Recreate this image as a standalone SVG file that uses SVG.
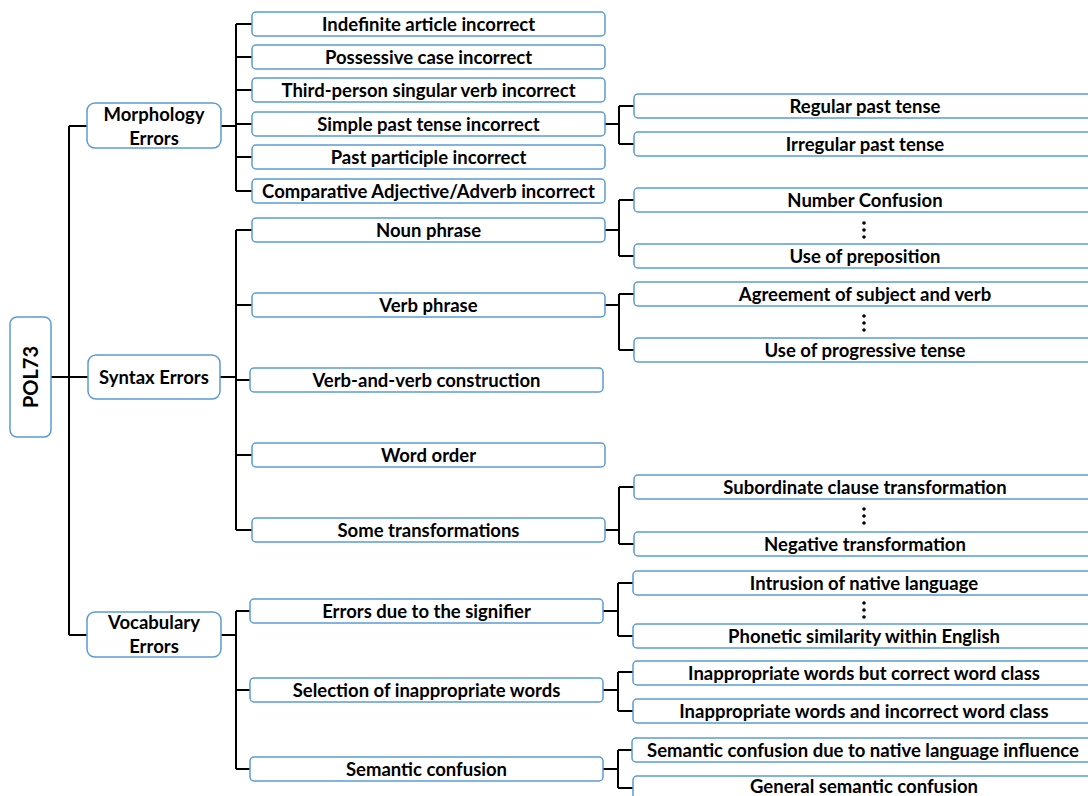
<svg xmlns="http://www.w3.org/2000/svg" width="1088" height="796" viewBox="0 0 1088 796">
<style>
.box{fill:#fff;stroke:#5B9BD5;stroke-width:1.5}
.t{font-family:Lato,"Liberation Sans",sans-serif;font-weight:700;font-size:18.5px;fill:#000;text-anchor:middle}
.c{fill:none;stroke:#000;stroke-width:2}
.dot{fill:#000}
</style>
<rect width="1088" height="796" fill="#fff"/>
<g id="connectors" class="c">
<path d="M51 377H69M69 126V635M69 126H87M69 377H88M69 635H87"/>
<path d="M221 126H236M236 24V191M236 24H252M236 57H252M236 90H252M236 124H252M236 157H252M236 191H252"/>
<path d="M604 124H619M619 106V144M619 106H634M619 144H634"/>
<path d="M220 377H236M236 230V530M236 230H252M236 305H252M236 380H250M236 455H252M236 530H252"/>
<path d="M604 230H619M619 200V256M619 200H634M619 256H634"/>
<path d="M604 305H619M619 294V350M619 294H634M619 350H634"/>
<path d="M604 530H619M619 487V544M619 487H634M619 544H634"/>
<path d="M221 635H236M236 611V769M236 611H250M236 690H250M236 769H250"/>
<path d="M603 611H618M618 583V636M618 583H633M618 636H633"/>
<path d="M603 690H618M618 672V711M618 672H633M618 711H633"/>
<path d="M603 769H618M618 750V788M618 750H632M618 788H633"/>
</g>
<g id="root"><rect class="box" x="10" y="317" width="41" height="120" rx="7"/><text class="t" style="font-size:20px" transform="translate(38 377) rotate(-90)">POL73</text></g>
<g id="morph"><rect class="box" x="87" y="103" width="134" height="45" rx="8"/><text class="t" x="154" y="121">Morphology</text><text class="t" x="154" y="145">Errors</text></g>
<g id="m1"><rect class="box" x="252" y="12" width="353" height="24" rx="4"/><text class="t" x="428.5" y="31">Indefinite article incorrect</text></g>
<g id="m2"><rect class="box" x="252" y="45" width="353" height="24" rx="4"/><text class="t" x="428.5" y="64">Possessive case incorrect</text></g>
<g id="m3"><rect class="box" x="252" y="78" width="353" height="24" rx="4"/><text class="t" x="428.5" y="97">Third-person singular verb incorrect</text></g>
<g id="m4"><rect class="box" x="252" y="112" width="353" height="24" rx="4"/><text class="t" x="428.5" y="131">Simple past tense incorrect</text></g>
<g id="m5"><rect class="box" x="252" y="145" width="353" height="24" rx="4"/><text class="t" x="428.5" y="164">Past participle incorrect</text></g>
<g id="m6"><rect class="box" x="252" y="179" width="353" height="24" rx="4"/><text class="t" x="428.5" y="198">Comparative Adjective/Adverb incorrect</text></g>
<g id="m4a"><rect class="box" x="634" y="94" width="462" height="24" rx="4"/><text class="t" x="865" y="113">Regular past tense</text></g>
<g id="m4b"><rect class="box" x="634" y="132" width="462" height="24" rx="4"/><text class="t" x="865" y="151">Irregular past tense</text></g>
<g id="syn"><rect class="box" x="88" y="355" width="132" height="44" rx="8"/><text class="t" x="154" y="384">Syntax Errors</text></g>
<g id="s1"><rect class="box" x="252" y="218" width="353" height="24" rx="4"/><text class="t" x="428.5" y="237">Noun phrase</text></g>
<g id="s2"><rect class="box" x="252" y="293" width="353" height="24" rx="4"/><text class="t" x="428.5" y="312">Verb phrase</text></g>
<g id="s3"><rect class="box" x="250" y="368" width="353" height="24" rx="4"/><text class="t" x="426.5" y="387">Verb-and-verb construction</text></g>
<g id="s4"><rect class="box" x="252" y="443" width="353" height="24" rx="4"/><text class="t" x="428.5" y="462">Word order</text></g>
<g id="s5"><rect class="box" x="252" y="518" width="353" height="24" rx="4"/><text class="t" x="428.5" y="537">Some transformations</text></g>
<g id="s1a"><rect class="box" x="634" y="188" width="462" height="24" rx="4"/><text class="t" x="865" y="207">Number Confusion</text></g>
<g id="s1d" class="dot"><circle cx="864" cy="223" r="1.8"/><circle cx="864" cy="230" r="1.8"/><circle cx="864" cy="237" r="1.8"/></g>
<g id="s1b"><rect class="box" x="634" y="244" width="462" height="24" rx="4"/><text class="t" x="865" y="263">Use of preposition</text></g>
<g id="s2a"><rect class="box" x="634" y="282" width="462" height="24" rx="4"/><text class="t" x="865" y="301">Agreement of subject and verb</text></g>
<g id="s2d" class="dot"><circle cx="864" cy="316" r="1.8"/><circle cx="864" cy="323" r="1.8"/><circle cx="864" cy="330" r="1.8"/></g>
<g id="s2b"><rect class="box" x="634" y="338" width="462" height="24" rx="4"/><text class="t" x="865" y="357">Use of progressive tense</text></g>
<g id="s5a"><rect class="box" x="634" y="475" width="462" height="24" rx="4"/><text class="t" x="865" y="494">Subordinate clause transformation</text></g>
<g id="s5d" class="dot"><circle cx="864" cy="509" r="1.8"/><circle cx="864" cy="516" r="1.8"/><circle cx="864" cy="523" r="1.8"/></g>
<g id="s5b"><rect class="box" x="634" y="532" width="462" height="24" rx="4"/><text class="t" x="865" y="551">Negative transformation</text></g>
<g id="voc"><rect class="box" x="87" y="612" width="134" height="45" rx="8"/><text class="t" x="154" y="629">Vocabulary</text><text class="t" x="154" y="653">Errors</text></g>
<g id="v1"><rect class="box" x="250" y="599" width="353" height="24" rx="4"/><text class="t" x="426.5" y="618">Errors due to the signifier</text></g>
<g id="v2"><rect class="box" x="250" y="678" width="353" height="24" rx="4"/><text class="t" x="426.5" y="697">Selection of inappropriate words</text></g>
<g id="v3"><rect class="box" x="250" y="757" width="353" height="24" rx="4"/><text class="t" x="426.5" y="776">Semantic confusion</text></g>
<g id="v1a"><rect class="box" x="633" y="571" width="462" height="24" rx="4"/><text class="t" x="864" y="590">Intrusion of native language</text></g>
<g id="v1d" class="dot"><circle cx="864" cy="603" r="1.8"/><circle cx="864" cy="610" r="1.8"/><circle cx="864" cy="617" r="1.8"/></g>
<g id="v1b"><rect class="box" x="633" y="624" width="462" height="24" rx="4"/><text class="t" x="864" y="643">Phonetic similarity within English</text></g>
<g id="v2a"><rect class="box" x="633" y="661" width="462" height="24" rx="4"/><text class="t" x="864" y="680">Inappropriate words but correct word class</text></g>
<g id="v2b"><rect class="box" x="633" y="699" width="462" height="24" rx="4"/><text class="t" x="864" y="718">Inappropriate words and incorrect word class</text></g>
<g id="v3a"><rect class="box" x="632" y="738" width="462" height="24" rx="4"/><text class="t" x="863" y="757">Semantic confusion due to native language influence</text></g>
<g id="v3b"><rect class="box" x="633" y="776" width="462" height="24" rx="4"/><text class="t" x="864" y="793">General semantic confusion</text></g>
</svg>
